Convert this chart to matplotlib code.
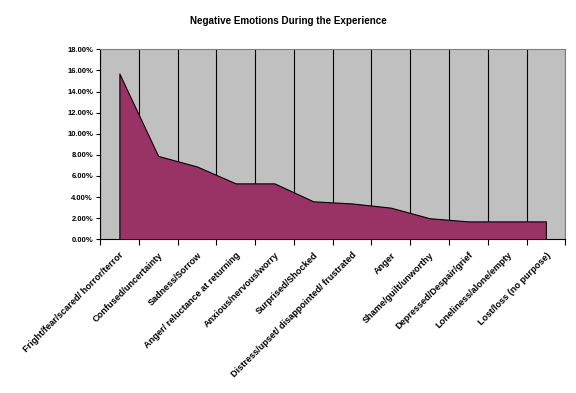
import numpy as np
import matplotlib
matplotlib.use("Agg")
import matplotlib.pyplot as plt
from matplotlib.ticker import FuncFormatter

emotions = [
    "Fright/fear/scared/ horror/terror",
    "Confused/uncertainty",
    "Sadness/Sorrow",
    "Anger/ reluctance at returning",
    "Anxious/nervous/worry",
    "Surprised/Shocked",
    "Distress/upset/ disappointed/ frustrated",
    "Anger",
    "Shame/guilt/unworthy",
    "Depressed/Despair/grief",
    "Loneliness/alone/empty",
    "Lost/loss (no purpose)",
]
share = [15.7, 7.9, 6.9, 5.3, 5.3, 3.6, 3.4, 3.0, 2.0, 1.7, 1.7, 1.7]

plt.rcParams['font.family'] = ['Liberation Sans', 'DejaVu Sans']

fig = plt.figure(figsize=(5.76, 3.93), dpi=100)
ax = fig.add_axes([0.1736, 0.391, 0.8078, 0.4836])
ax.set_facecolor("#C0C0C0")

x = np.arange(len(share)) + 0.5
ax.fill_between(x, share, 0, facecolor="#993366", edgecolor="black", linewidth=0.8, zorder=3)

ax.set_xlim(0, len(share))
ax.set_ylim(0, 18)
ax.set_yticks(np.arange(0, 19, 2))
ax.yaxis.set_major_formatter(FuncFormatter(lambda v, p: "%.2f%%" % v))

# category boundaries carry ticks and the vertical grid
ax.set_xticks(np.arange(0, len(share) + 1))
ax.set_xticklabels([])
ax.set_xticks(x, minor=True)
ax.set_xticklabels(emotions, minor=True, rotation=45, ha="right", va="top",
                   rotation_mode="anchor", fontsize=6.6, fontweight="bold")
ax.tick_params(axis="x", which="minor", length=0, pad=8)
ax.tick_params(axis="x", which="major", length=4, width=0.8, direction="out")
ax.tick_params(axis="y", length=3, width=0.8, direction="out", labelsize=5.5, pad=2)
for lbl in ax.get_yticklabels():
    lbl.set_fontweight("bold")

ax.grid(axis="x", which="major", color="black", linewidth=0.8, zorder=1)
ax.set_axisbelow(True)

ax.spines["top"].set_color("#808080")
ax.spines["right"].set_color("#808080")
ax.spines["left"].set_linewidth(0.8)
ax.spines["bottom"].set_linewidth(0.8)

fig.text(0.5, 0.9466, "Negative Emotions During the Experience", ha="center", va="center",
         fontsize=7.1, fontweight="bold")

fig.savefig("out.png", dpi=100)
